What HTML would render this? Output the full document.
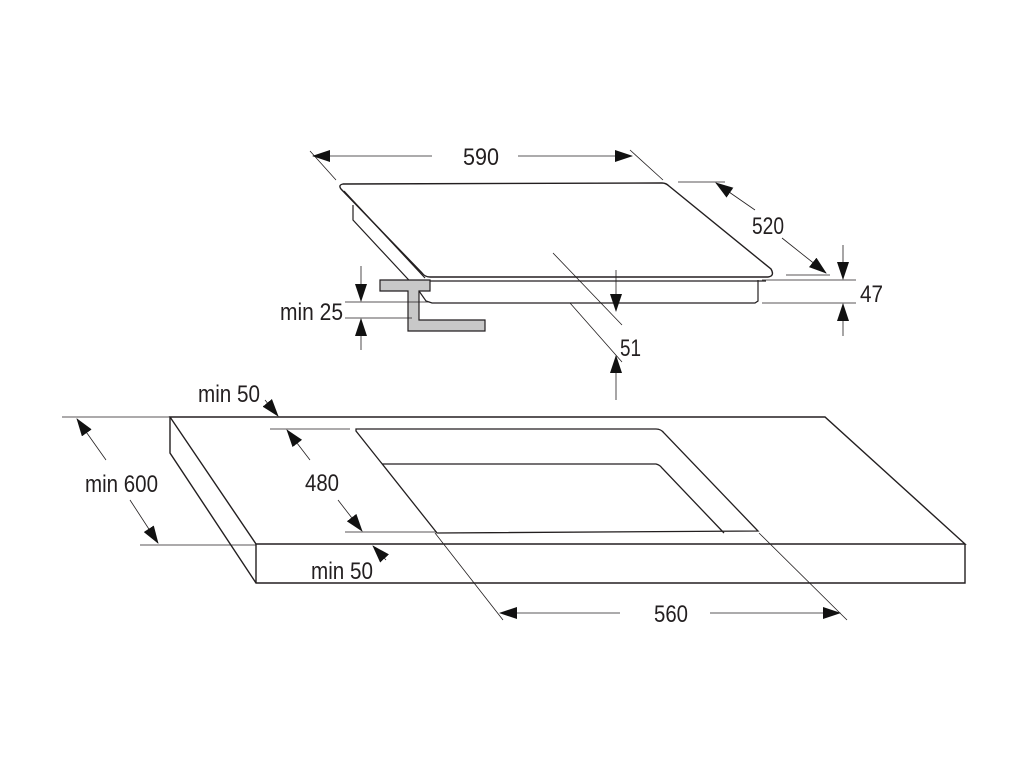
<!DOCTYPE html>
<html><head><meta charset="utf-8"><style>
html,body{margin:0;padding:0;background:#fff;}
svg{display:block;}
text{font-family:"Liberation Sans Narrow","Liberation Sans",sans-serif;font-size:24px;fill:#231f20;}
</style></head><body>
<svg width="1024" height="769" viewBox="0 0 1024 769" xmlns="http://www.w3.org/2000/svg">
<defs>
<marker id="a" markerWidth="18" markerHeight="12" refX="17" refY="6" orient="auto" markerUnits="userSpaceOnUse">
<path d="M0,0 L18,6 L0,12 Z" fill="#111"/>
</marker>
</defs>
<g fill="none" stroke="#231f20" stroke-width="1.2">
<path d="M343,184 L662,183 Q666,183 669,186 L771,269 Q775,276 768,277 L430,277 Q425,277 422,273 L341,189 Q338,185 343,184 Z" stroke-width="1.4"/>
<path d="M344,191 L425,278"/>
<path d="M353,205 L353,220 L419,291 L426,301 L432,303 L755,303 L758,301 L758,280"/>
<path d="M430,281 L766,281"/>
<path d="M170,417 L825,417 L965,544 L256,544 Z" stroke-width="1.4"/>
<path d="M170,417 L170,453 L256,583 L965,583 L965,544 M256,544 L256,583" stroke-width="1.4"/>
<path d="M356,429 L656,429 Q661,429 664,433 L758,531 L437,533 L356,431 Z" stroke-width="1.3"/>
<path d="M382,464 L656,464 Q660,465 662,468 L724,533" stroke-width="1.3"/>
</g>
<path d="M380,280 L430,280 L430,291 L419,291 L419,320 L485,320 L485,331 L408,331 L408,291 L380,291 Z" fill="#c8c8c8" stroke="#231f20" stroke-width="1.2"/>
<g fill="none" stroke="#231f20" stroke-width="0.8">
<path d="M310,151 L336,180 M630,150 L663,180"/>
<path d="M432,156 L313,156" marker-end="url(#a)"/>
<path d="M518,156 L632,156" marker-end="url(#a)"/>
<path d="M678,182 L725,182 M786,275 L830,275"/>
<path d="M755,210 L716,183" marker-end="url(#a)"/>
<path d="M782,238 L826,273" marker-end="url(#a)"/>
<path d="M762,280 L856,280 M762,303 L856,303"/>
<path d="M843,245 L843,279" marker-end="url(#a)"/>
<path d="M843,336 L843,304" marker-end="url(#a)"/>
<path d="M553,253 L622,325 M570,303 L622,362"/>
<path d="M616,270 L616,311" marker-end="url(#a)"/>
<path d="M616,400 L616,356" marker-end="url(#a)"/>
<path d="M345,302 L430,302 M345,318 L412,318"/>
<path d="M361,266 L361,301" marker-end="url(#a)"/>
<path d="M361,350 L361,319" marker-end="url(#a)"/>
<path d="M62,417 L170,417 M140,545 L256,545"/>
<path d="M106,460 L77,419" marker-end="url(#a)"/>
<path d="M130,500 L158,543" marker-end="url(#a)"/>
<path d="M270,429 L350,429 M345,532 L437,532"/>
<path d="M310,460 L287,430" marker-end="url(#a)"/>
<path d="M338,500 L362,531" marker-end="url(#a)"/>
<path d="M265,400 L278,416" marker-end="url(#a)"/>
<path d="M386,560 L373,546" marker-end="url(#a)"/>
<path d="M435,533 L503,620 M759,533 L847,620"/>
<path d="M620,613 L500,613" marker-end="url(#a)"/>
<path d="M710,613 L840,613" marker-end="url(#a)"/>
</g>
<text x="463" y="165" textLength="36" lengthAdjust="spacingAndGlyphs">590</text>
<text x="752" y="234" textLength="32" lengthAdjust="spacingAndGlyphs">520</text>
<text x="860" y="302" textLength="23" lengthAdjust="spacingAndGlyphs">47</text>
<text x="620" y="356" textLength="21" lengthAdjust="spacingAndGlyphs">51</text>
<text x="280" y="320" textLength="63" lengthAdjust="spacingAndGlyphs">min 25</text>
<text x="198" y="402" textLength="62" lengthAdjust="spacingAndGlyphs">min 50</text>
<text x="85" y="492" textLength="73" lengthAdjust="spacingAndGlyphs">min 600</text>
<text x="305" y="491" textLength="34" lengthAdjust="spacingAndGlyphs">480</text>
<text x="311" y="579" textLength="62" lengthAdjust="spacingAndGlyphs">min 50</text>
<text x="654" y="622" textLength="34" lengthAdjust="spacingAndGlyphs">560</text>
</svg>
</body></html>
